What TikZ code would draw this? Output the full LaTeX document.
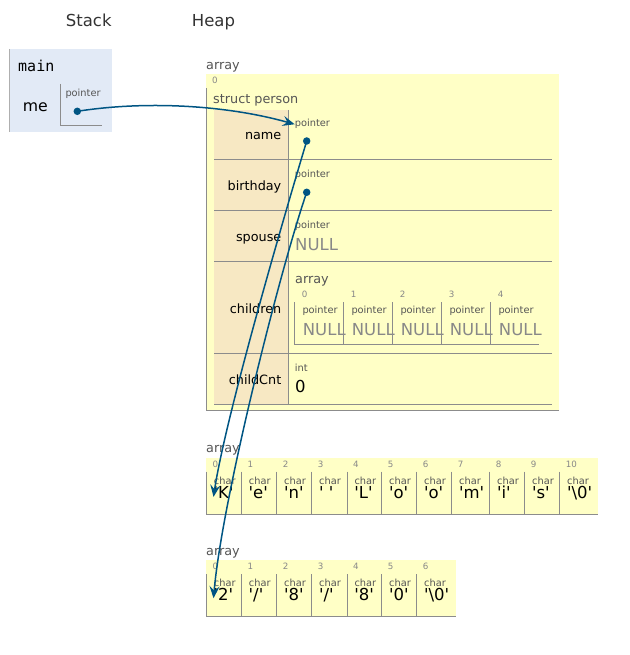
\documentclass[tikz,border=0pt]{standalone}
\usepackage{fontspec}
\setmainfont{DejaVu Sans}
\setmonofont{DejaVu Sans Mono}
\usepackage{tikz}
\usetikzlibrary{arrows.meta}
\definecolor{ptblue}{HTML}{005583}
\definecolor{stackbg}{HTML}{E2EAF6}
\definecolor{heapbg}{HTML}{FFFFC6}
\definecolor{keybg}{HTML}{F7E8C3}
\definecolor{rulegray}{HTML}{8C8C8C}
\definecolor{headgray}{HTML}{333333}
\definecolor{typegray}{HTML}{555555}
\definecolor{nullgray}{HTML}{888888}
\newcommand{\cv}[1]{\textquotesingle#1\textquotesingle}

\begin{document}
\begin{tikzpicture}[
  x=1pt, y=-1pt,
  header/.style={font=\fontsize{16.5}{18}\selectfont, text=headgray, anchor=base west, inner sep=0pt},
  kind/.style={font=\fontsize{12.8}{14}\selectfont, text=typegray, anchor=base west, inner sep=0pt},
  smalltype/.style={font=\fontsize{9.8}{10}\selectfont, text=typegray, anchor=base west, inner sep=0pt},
  idx/.style={font=\fontsize{8.7}{9}\selectfont, text=nullgray, anchor=base west, inner sep=0pt},
  fieldkey/.style={font=\fontsize{12.8}{14}\selectfont, anchor=base east, inner sep=0pt},
  val/.style={font=\fontsize{16.5}{18}\selectfont, anchor=base west, inner sep=0pt},
  nullval/.style={val, text=nullgray},
  ptrdot/.style={circle, fill=ptblue, inner sep=0pt, minimum size=7.5pt},
  gridline/.style={draw=rulegray, line width=1pt},
  ptr/.style={-{Stealth[length=12pt, width=10pt, inset=4.5pt]}, line width=1.5pt, draw=ptblue}
]
  \useasboundingbox (0,0) rectangle (629,655);

  % Column headers
  \node[header] (stackHd) at (65.7,27) {Stack};
  \node[header] (heapHd) at (191.7,27) {Heap};

  % Stack frame
  \fill[stackbg] (9,49) rectangle (111.7,132.3);
  \draw[draw=rulegray!70, line width=1pt] (9.5,49) -- (9.5,132.3);
  \node[font=\ttfamily\fontsize{15}{16}\selectfont, anchor=base west, inner sep=0pt] (mainFr) at (18,72) {main};
  \node[val, font=\fontsize{15.7}{17}\selectfont] (meVar) at (22.7,112) {me};
  \draw[gridline] (60.3,84) |- (101.7,125.3);
  \node[smalltype] (mePtr) at (65.3,97) {pointer};
  \node[ptrdot] (meDot) at (77.3,111.3) {};

  % Struct person
  \node[kind] (arrTop) at (206,69.5) {array};
  \fill[heapbg] (206,74) rectangle (558.7,410.7);
  \node[idx] at (212,84) {0};
  \draw[gridline] (206.5,88.3) |- (558.7,410.7);
  \node[kind] (structHd) at (213,104) {struct person};
  \fill[keybg] (214,110) rectangle (287.5,404.3);
  \draw[gridline] (288.3,110) -- (288.3,404.3);
  \foreach \y in {159.3, 210.7, 261.7, 353.7, 404.3}
    \draw[gridline] (214,\y) -- (551.7,\y);
  \foreach \y/\k in {140/name, 190/birthday, 241.5/spouse, 313/children, 384.3/childCnt}
    \node[fieldkey] (key-\k) at (281.5,\y) {\k};

  % Field values
  \node[smalltype] (namePtr) at (294.7,127) {pointer};
  \node[ptrdot] (nameDot) at (306.7,141) {};
  \node[smalltype] (bdayPtr) at (294.7,178) {pointer};
  \node[ptrdot] (bdayDot) at (306.7,192.3) {};
  \node[smalltype] (spousePtr) at (294.7,228.5) {pointer};
  \node[nullval] (spouseVal) at (295,250) {NULL};
  \node[kind] (kidsArr) at (295,283) {array};
  \foreach \i in {0,...,4} {
    \pgfmathsetmacro\cx{294.3+49*\i}
    \node[idx] at (\cx+7.4,297) {\i};
    \draw[gridline] (\cx,302.3) -- (\cx,344);
    \node[smalltype] at (\cx+8,313.5) {pointer};
    \node[nullval] (kid\i) at (\cx+8.4,335.7) {NULL};
  }
  \draw[gridline] (294.3,344) -- (539,344);
  \node[smalltype] (cntType) at (294.7,371.7) {int};
  \node[val] (cntVal) at (295,392.7) {0};

  % Name string
  \node[kind] (strAHd) at (206,452.7) {array};
  \fill[heapbg] (206,457.7) rectangle (598.3,514.3);
  \foreach \xa/\v [count=\i from 0] in {206/K, 241/e, 276.3/n, 311.3/{\ }, 346.7/L, 381.3/o, 416.3/o, 451.3/m, 489.3/i, 524.3/s, 559.3/{\textbackslash 0}} {
    \node[idx] at (\xa+6.3,467.7) {\i};
    \draw[gridline] (\xa+0.5,471.7) -- (\xa+0.5,514.3);
    \node[smalltype] at (\xa+7.7,484) {char};
    \node[val] (strA\i) at (\xa+7.5,498.3) {\cv{\v}};
  }
  \draw[gridline] (206,514.3) -- (598.3,514.3);

  % Birthday string
  \node[kind] (strBHd) at (206,555) {array};
  \fill[heapbg] (206,560) rectangle (455.7,616);
  \foreach \xa/\v [count=\i from 0] in {206/2, 241/{/}, 276.3/8, 311.3/{/}, 346.7/8, 381.3/0, 416.3/{\textbackslash 0}} {
    \node[idx] at (\xa+6.3,569.3) {\i};
    \draw[gridline] (\xa+0.5,574) -- (\xa+0.5,616);
    \node[smalltype] at (\xa+7.7,586) {char};
    \node[val] (strB\i) at (\xa+7.5,600) {\cv{\v}};
  }
  \draw[gridline] (206,616) -- (455.7,616);

  % Pointers
  \draw[ptr] (meDot.center) .. controls (150,100) and (230,106) .. (namePtr.west);
  \draw[ptr] (nameDot.center) .. controls (280,230) and (225,420) .. ([yshift=1.6pt]strA0.south west);
  \draw[ptr] (bdayDot.center) .. controls (280,270) and (222,500) .. ([yshift=2pt]strB0.south west);
\end{tikzpicture}
\end{document}
